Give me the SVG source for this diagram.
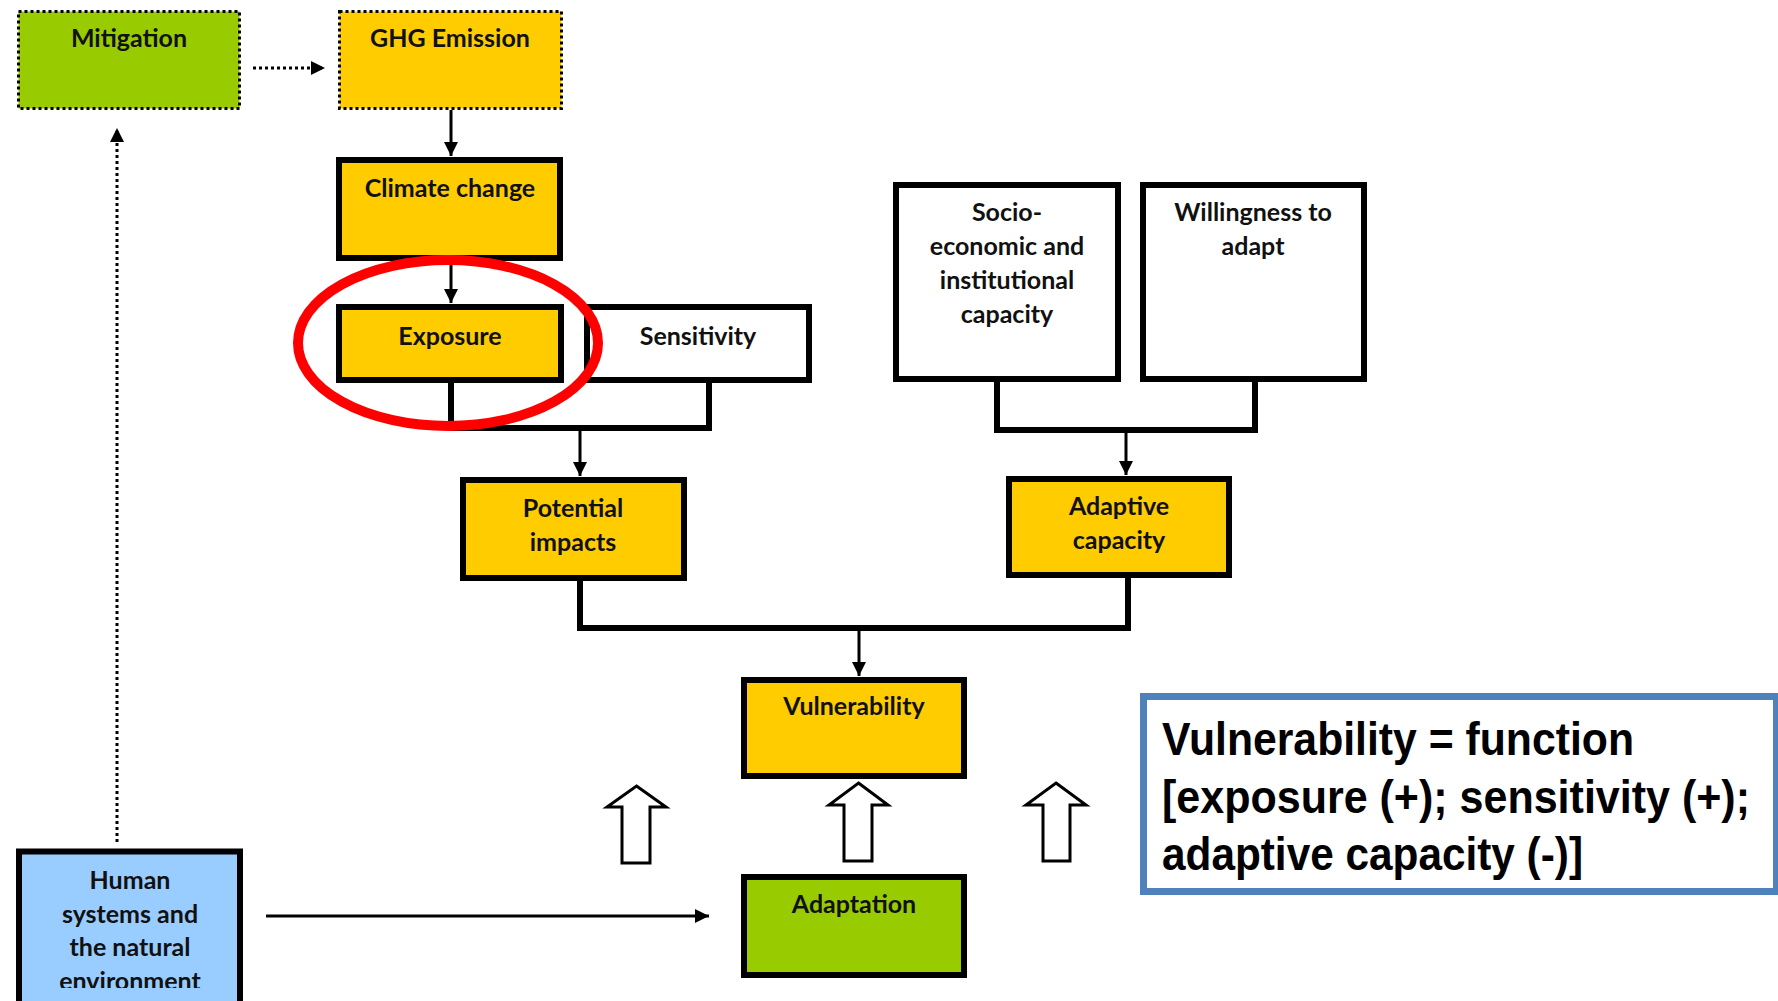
<svg xmlns="http://www.w3.org/2000/svg" width="1778" height="1001" viewBox="0 0 1778 1001">
<style>
.box{stroke:#000;stroke-width:6}
.dot{stroke:#000;stroke-width:3;stroke-dasharray:3 3}
.y{fill:#ffcc00}
.g{fill:#99cc00}
.w{fill:#fff}
.b{fill:#99ccff}
.t{font-family:Lato,"Liberation Sans",sans-serif;font-weight:700;font-size:25px;fill:#111;text-anchor:middle}
.ln{fill:none;stroke:#000;stroke-width:3}
.br{fill:none;stroke:#000;stroke-width:6}
.blk{fill:#fff;stroke:#000;stroke-width:3}
.f{font-family:"Liberation Sans",Arial,sans-serif;font-weight:700;font-size:46px;fill:#000}
</style>
<defs>
<marker id="ah" markerUnits="userSpaceOnUse" markerWidth="16" markerHeight="16" viewBox="0 0 16 16" refX="14" refY="8" orient="auto">
<path d="M0,1 L14,8 L0,15 Z" fill="#000"/>
</marker>
<clipPath id="hclip"><rect x="0" y="840" width="260" height="148"/></clipPath>
</defs>
<rect width="1778" height="1001" fill="#fff"/>

<g id="connectors">
<line class="dot" x1="253" y1="68" x2="325" y2="68" marker-end="url(#ah)"/>
<line class="ln" x1="451" y1="110" x2="451" y2="156" marker-end="url(#ah)"/>
<line class="ln" x1="451" y1="261" x2="451" y2="303" marker-end="url(#ah)"/>
<path class="br" d="M451,383 V428 H709 V383" stroke-width="5"/>
<line class="ln" x1="580" y1="428" x2="580" y2="476" marker-end="url(#ah)"/>
<path class="br" d="M997,382 V430 H1255 V382"/>
<line class="ln" x1="1126" y1="430" x2="1126" y2="475" marker-end="url(#ah)"/>
<path class="br" d="M580,581 V628 H1128 V578"/>
<line class="ln" x1="859" y1="628" x2="859" y2="676" marker-end="url(#ah)"/>
<line class="ln" x1="266" y1="916" x2="709" y2="916" marker-end="url(#ah)"/>
<line class="dot" x1="117" y1="842" x2="117" y2="128" marker-end="url(#ah)"/>
<polygon class="blk" points="636.5,786 666,807 650,807 650,863 622,863 622,807 607,807"/>
<polygon class="blk" points="858.5,783 888,805 872,805 872,861 844,861 844,805 829,805"/>
<polygon class="blk" points="1056,783 1086,805 1070,805 1070,861 1043,861 1043,805 1026,805"/>
</g>

<g id="mitigation">
<rect class="dot g" x="18.5" y="11.5" width="221" height="97"/>
<text class="t" x="129" y="47">Mitigation</text>
</g>
<g id="ghg-emission">
<rect class="dot y" x="339.5" y="11.5" width="222" height="97"/>
<text class="t" x="450" y="47">GHG Emission</text>
</g>
<g id="climate-change">
<rect class="box y" x="339" y="160" width="221" height="98"/>
<text class="t" x="450" y="197">Climate change</text>
</g>
<g id="exposure">
<rect class="box y" x="339" y="307" width="222" height="73"/>
<text class="t" x="450" y="345">Exposure</text>
</g>
<g id="sensitivity">
<rect class="box w" x="587" y="307" width="222" height="73"/>
<text class="t" x="698" y="345">Sensitivity</text>
</g>
<g id="potential-impacts">
<rect class="box y" x="463" y="480" width="221" height="98"/>
<text class="t" x="573" y="517">Potential</text>
<text class="t" x="573" y="551">impacts</text>
</g>
<g id="socio-economic">
<rect class="box w" x="896" y="185" width="222" height="194"/>
<text class="t" x="1007" y="221">Socio-</text>
<text class="t" x="1007" y="255">economic and</text>
<text class="t" x="1007" y="289">institutional</text>
<text class="t" x="1007" y="323">capacity</text>
</g>
<g id="willingness">
<rect class="box w" x="1143" y="185" width="221" height="194"/>
<text class="t" x="1253" y="221">Willingness to</text>
<text class="t" x="1253" y="255">adapt</text>
</g>
<g id="adaptive-capacity">
<rect class="box y" x="1009" y="479" width="220" height="96"/>
<text class="t" x="1119" y="515">Adaptive</text>
<text class="t" x="1119" y="549">capacity</text>
</g>
<g id="vulnerability">
<rect class="box y" x="744" y="680" width="220" height="96"/>
<text class="t" x="854" y="715">Vulnerability</text>
</g>
<g id="adaptation">
<rect class="box g" x="744" y="877" width="220" height="98"/>
<text class="t" x="854" y="913">Adaptation</text>
</g>
<g id="human-systems">
<rect class="box b" x="19" y="851.5" width="221" height="170" stroke-width="7"/>
<g clip-path="url(#hclip)">
<text class="t" x="130" y="889">Human</text>
<text class="t" x="130" y="923">systems and</text>
<text class="t" x="130" y="956">the natural</text>
<text class="t" x="130" y="990">environment</text>
</g>
</g>

<g id="highlight">
<ellipse cx="448" cy="343" rx="150" ry="83" fill="none" stroke="#ff0000" stroke-width="10"/>
</g>

<g id="formula">
<rect x="1143.5" y="696.5" width="633" height="195" fill="#fff" stroke="#4f81bd" stroke-width="7"/>
<text class="f" x="1162" y="755" textLength="472" lengthAdjust="spacingAndGlyphs">Vulnerability = function</text>
<text class="f" x="1162" y="813" textLength="588" lengthAdjust="spacingAndGlyphs">[exposure (+); sensitivity (+);</text>
<text class="f" x="1162" y="870" textLength="421" lengthAdjust="spacingAndGlyphs">adaptive capacity (-)]</text>
</g>
</svg>
